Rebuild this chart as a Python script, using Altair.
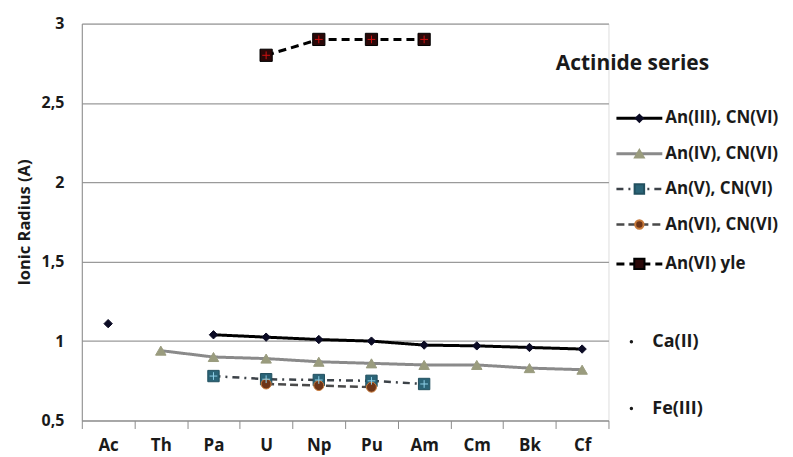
import altair as alt
import pandas as pd
import numpy as np

elements = ["Ac", "Th", "Pa", "U", "Np", "Pu", "Am", "Cm", "Bk", "Cf"]
an3 = [1.11, None, 1.04, 1.025, 1.01, 1.0, 0.975, 0.97, 0.96, 0.95]
an4 = [None, 0.94, 0.90, 0.89, 0.87, 0.86, 0.85, 0.85, 0.83, 0.82]
an5 = [None, None, 0.78, 0.76, 0.755, 0.75, 0.73, None, None, None]
an6 = [None, None, None, 0.73, 0.72, 0.71, None, None, None, None]
yle = [None, None, None, 2.8, 2.9, 2.9, 2.9, None, None, None]
series_names = ["An(III), CN(VI)", "An(IV), CN(VI)", "An(V), CN(VI)", "An(VI), CN(VI)", "An(VI) yle"]
extra_labels = ["Ca(II)", "Fe(III)"]
title_text = "Actinide series"

W, H = 528, 398
FONT = "Open Sans"

styles = [
    dict(line="#000000", dash=[1, 0], lw=3, shape="diamond", fill="#0b0b24", stroke="#0b0b24", size=70),
    dict(line="#8a8a8a", dash=[1, 0], lw=3, shape="triangle-up", fill="#9a9c7e", stroke="#9a9c7e", size=110),
    dict(line="#3c4248", dash=[7, 5, 2, 5], lw=2.5, shape="square", fill="#2b6477", stroke="#22505f", size=130),
    dict(line="#4a4a4a", dash=[8, 4], lw=2.5, shape="circle", fill="#6e3518", stroke="#c87a3a", size=100),
    dict(line="#000000", dash=[8, 5], lw=3, shape="square", fill="#2a0808", stroke="#000000", size=150),
]
values = [an3, an4, an5, an6, yle]

x_enc = alt.X("el:N", sort=elements,
              scale=alt.Scale(type="band", domain=elements, paddingInner=0, paddingOuter=0),
              axis=alt.Axis(title=None, labelFont=FONT, labelFontSize=17, labelFontWeight="bold",
                            labelColor="#1a1a1a", labelPadding=9, tickBand="extent", tickSize=8,
                            tickColor="#8c8c8c", domainColor="#8c8c8c", grid=False, labelAngle=0))
y_enc = alt.Y("v:Q", scale=alt.Scale(domain=[0.5, 3]),
              axis=alt.Axis(title="Ionic Radius (A)", values=[0.5, 1, 1.5, 2, 2.5, 3],
                            labelExpr="replace(format(datum.value, '~g'), '.', ',')",
                            labelFont=FONT, labelFontSize=16, labelFontWeight="bold", labelColor="#1a1a1a",
                            titleFont=FONT, titleFontSize=16.5, titleFontWeight="bold", titleColor="#1a1a1a",
                            titlePadding=9, labelPadding=18, ticks=False, domainColor="#8c8c8c",
                            gridColor="#9a9a9a", gridWidth=1.2))

layers = []
for name, vals, st in zip(series_names, values, styles):
    df = pd.DataFrame({"el": elements, "v": [np.nan if v is None else v for v in vals], "s": name})
    base = alt.Chart(df)
    layers.append(base.mark_line(color=st["line"], strokeWidth=st["lw"], strokeDash=st["dash"])
                  .encode(x=x_enc, y=y_enc))
    layers.append(base.transform_filter("isValid(datum.v)")
                  .mark_point(shape=st["shape"], filled=True, fill=st["fill"], stroke=st["stroke"],
                              strokeWidth=1, size=st["size"], opacity=1)
                  .encode(x=x_enc, y=y_enc))

# inner crosses on square markers
for idx, col in [(2, "#8fd0e8"), (4, "#d01010")]:
    df = pd.DataFrame({"el": elements, "v": [np.nan if v is None else v for v in values[idx]]})
    layers.append(alt.Chart(df).transform_filter("isValid(datum.v)")
                  .mark_point(shape="M-1,0L1,0M0,-1L0,1", stroke=col, strokeWidth=1, size=60, opacity=1)
                  .encode(x=x_enc, y=y_enc))

# legend
one = pd.DataFrame({"k": [0]})
lx0, lx1, lxm, ltx = 536, 582, 559, 585
ly0, lstep = 95, 35.5
for i, (name, st) in enumerate(zip(series_names, styles)):
    ly = ly0 + lstep * i + (4 if i == 4 else 0)
    lb = alt.Chart(one)
    layers.append(lb.mark_rule(color=st["line"], strokeWidth=st["lw"], strokeDash=st["dash"])
                  .encode(x=alt.value(lx0), x2=alt.value(lx1), y=alt.value(ly)))
    layers.append(lb.mark_point(shape=st["shape"], filled=True, fill=st["fill"], stroke=st["stroke"],
                                size=st["size"] * 0.7, opacity=1)
                  .encode(x=alt.value(lxm), y=alt.value(ly)))
    layers.append(lb.mark_text(text=name, align="left", baseline="middle", font=FONT, fontSize=17,
                               fontWeight="bold", color="#1a1a1a")
                  .encode(x=alt.value(ltx), y=alt.value(ly)))

for j, lab in enumerate(extra_labels):
    ly = 319 + 67 * j
    lb = alt.Chart(one)
    layers.append(lb.mark_point(shape="circle", filled=True, color="#1a1a1a", size=12, opacity=1)
                  .encode(x=alt.value(551), y=alt.value(ly)))
    layers.append(lb.mark_text(text=lab, align="left", baseline="middle", font=FONT, fontSize=18,
                               fontWeight="bold", color="#1a1a1a")
                  .encode(x=alt.value(572), y=alt.value(ly)))

layers.append(alt.Chart(one).mark_text(text=title_text, align="center", baseline="middle", font=FONT,
                                       fontSize=21, fontWeight="bold", color="#1a1a1a")
              .encode(x=alt.value(552), y=alt.value(41)))

chart = alt.layer(*layers).properties(
    width=W, height=H,
    autosize=alt.AutoSizeParams(type="none"),
    padding={"left": 74, "top": 15, "right": 177, "bottom": 35},
).configure_view(stroke=None).configure(background="white")

chart.save("out.html", embed_options={"renderer": "svg", "actions": False})
